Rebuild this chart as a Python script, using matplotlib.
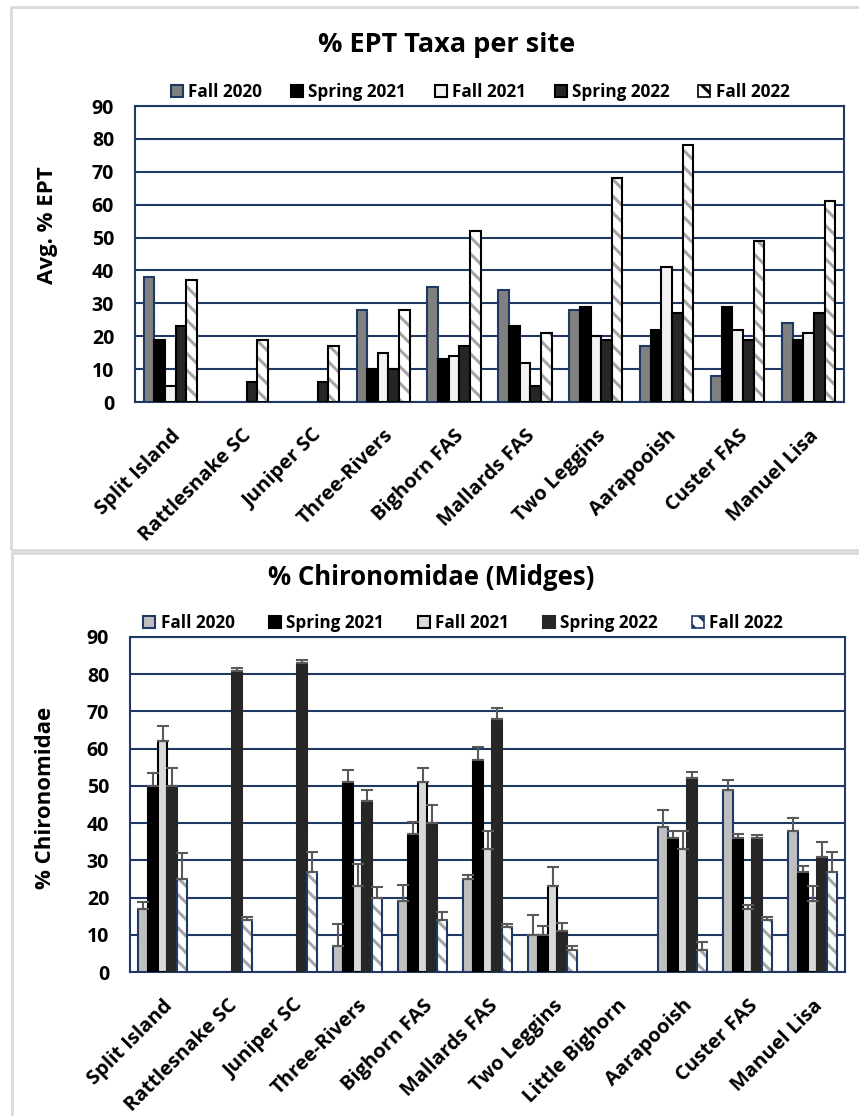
import numpy as np
import matplotlib
matplotlib.use("Agg")
import matplotlib.pyplot as plt
from matplotlib.patches import Rectangle

plt.rcParams['font.family'] = ['Open Sans', 'DejaVu Sans']
plt.rcParams['font.weight'] = 'bold'
plt.rcParams['hatch.linewidth'] = 2.2

# --- donnees ---
seasons = ["Fall 2020", "Spring 2021", "Fall 2021", "Spring 2022", "Fall 2022"]

ept_sites = ["Split Island", "Rattlesnake SC", "Juniper SC", "Three-Rivers", "Bighorn FAS",
             "Mallards FAS", "Two Leggins", "Aarapooish", "Custer FAS", "Manuel Lisa"]
ept_fall20 = [38, 0, 0, 28, 35, 34, 28, 17, 8, 24]
ept_spring21 = [19, 0, 0, 10, 13, 23, 29, 22, 29, 19]
ept_fall21 = [5, 0, 0, 15, 14, 12, 20, 41, 22, 21]
ept_spring22 = [23, 6, 6, 10, 17, 5, 19, 27, 19, 27]
ept_fall22 = [37, 19, 17, 28, 52, 21, 68, 78, 49, 61]

chi_sites = ["Split Island", "Rattlesnake SC", "Juniper SC", "Three-Rivers", "Bighorn FAS",
             "Mallards FAS", "Two Leggins", "Little Bighorn", "Aarapooish", "Custer FAS", "Manuel Lisa"]
chi_fall20 = [17, 0, 0, 7, 19, 25, 10, 0, 39, 49, 38]
chi_spring21 = [50, 0, 0, 51, 37, 57, 10, 0, 36, 36, 27]
chi_fall21 = [62, 0, 0, 23, 51, 33, 23, 0, 33, 17, 19]
chi_spring22 = [50, 81, 83, 46, 40, 68, 11, 0, 52, 36, 31]
chi_fall22 = [25, 14, 27, 20, 14, 12, 6, 0, 6, 14, 27]
# erreurs (vers le haut seulement)
chi_err_fall20 = [1.7, 0, 0, 6, 4.5, 1, 5.4, 0, 4.6, 2.7, 3.3]
chi_err_spring21 = [3.5, 0, 0, 3.2, 3.3, 3.4, 2.4, 0, 1.8, 1, 1.4]
chi_err_fall21 = [4, 0, 0, 6, 3.8, 5, 5.2, 0, 5, 0.9, 4.2]
chi_err_spring22 = [4.8, 0.7, 0.7, 3, 4.9, 3, 2.1, 0, 1.8, 0.7, 4]
chi_err_fall22 = [7, 0.9, 5.2, 2.9, 2, 1, 0.9, 0, 2, 0.9, 5.2]

navy = "#1F3864"
hatch_grey = "#A6A6A6"

fig = plt.figure(figsize=(8.59, 11.16), dpi=100)

# cadres gris des deux graphiques
fig.patches.append(Rectangle((11/859, 1-550/1116), 1.0, 543/1116, transform=fig.transFigure,
                             fill=False, edgecolor="#D9D9D9", linewidth=2))
fig.patches.append(Rectangle((12/859, -0.01), 1.0, 1-553/1116+0.01, transform=fig.transFigure,
                             fill=False, edgecolor="#D9D9D9", linewidth=2))


def draw_chart(ax, sites, series, styles, errs=None):
    x = np.arange(len(sites))
    w = 0.15
    handles = []
    for i, (vals, st) in enumerate(zip(series, styles)):
        pos = x + (i - 2) * w
        vals = np.array(vals, dtype=float)
        hide = vals == 0
        if st.get("hatch"):
            ax.bar(pos[~hide], vals[~hide], w, color="white", edgecolor=hatch_grey,
                   hatch=st["hatch"], linewidth=0, zorder=3)
            ax.bar(pos[~hide], vals[~hide], w, fill=False, edgecolor=st["edge"],
                   linewidth=1.5, zorder=4)
            h = ax.bar([np.nan], [np.nan], w, facecolor="white", edgecolor=st["edge"],
                       hatch=st["hatch"], linewidth=1.2, label=seasons[i])
        else:
            h = ax.bar(pos[~hide], vals[~hide], w, color=st["color"], edgecolor=st["edge"],
                       linewidth=1.5, zorder=3, label=seasons[i])
        handles.append(h)
        if errs is not None:
            e = np.array(errs[i], dtype=float)
            ax.errorbar(pos[~hide], vals[~hide], yerr=[np.zeros((~hide).sum()), e[~hide]],
                        fmt="none", ecolor="#595959", elinewidth=1.5, capsize=4,
                        capthick=1.5, zorder=5)
    ax.set_xlim(-0.5, len(sites) - 0.5)
    ax.set_ylim(0, 90)
    ax.set_yticks(range(0, 91, 10))
    ax.yaxis.grid(True, color=navy, linewidth=1.5, zorder=0)
    ax.set_axisbelow(True)
    for s in ax.spines.values():
        s.set_color(navy)
        s.set_linewidth(1.5)
    ax.tick_params(axis="y", length=0, labelsize=14, pad=15)
    ax.tick_params(axis="x", length=0, pad=17)
    ax.set_xticks(x)
    ax.set_xticklabels(sites, rotation=45, ha="right", rotation_mode="anchor",
                       fontsize=14.5, fontweight="bold")
    for t in ax.get_yticklabels():
        t.set_fontweight("bold")
    return handles


# --- graphe 1 : % EPT ---
ax1 = fig.add_axes([135/859, 1-402/1116, (844-135)/859, (402-106)/1116])
styles1 = [dict(color="#808080", edge=navy),
           dict(color="black", edge="black"),
           dict(color="#F2F2F2", edge="black"),
           dict(color="#262626", edge="black"),
           dict(hatch="\\\\", edge="black")]
h1 = draw_chart(ax1, ept_sites,
                [ept_fall20, ept_spring21, ept_fall21, ept_spring22, ept_fall22], styles1)
fig.text(47/859, 1-225/1116, "Avg. % EPT", rotation=90, ha="center", va="center",
         fontsize=16, fontweight="bold")
fig.text(447/859, 1-45/1116, "% EPT Taxa per site", ha="center", va="center",
         fontsize=19.5, fontweight="bold")
fig.legend(handles=h1, labels=seasons, loc="center", bbox_to_anchor=(480/859, 1-92/1116),
           ncol=5, frameon=False, handlelength=0.7, handleheight=0.7,
           handletextpad=0.3, columnspacing=1.7, prop=dict(weight="bold", size=12.3))

# --- graphe 2 : % Chironomidae ---
ax2 = fig.add_axes([130/859, 1-972/1116, (845-130)/859, (972-637)/1116])
styles2 = [dict(color="#BFBFBF", edge=navy),
           dict(color="black", edge="black"),
           dict(color="#D9D9D9", edge="black"),
           dict(color="#262626", edge="#262626"),
           dict(hatch="\\\\", edge=navy)]
h2 = draw_chart(ax2, chi_sites,
                [chi_fall20, chi_spring21, chi_fall21, chi_spring22, chi_fall22], styles2,
                errs=[chi_err_fall20, chi_err_spring21, chi_err_fall21, chi_err_spring22, chi_err_fall22])
fig.text(46/859, 1-798/1116, "% Chironomidae", rotation=90, ha="center", va="center",
         fontsize=16, fontweight="bold")
fig.text(431/859, 1-578/1116, "% Chironomidae (Midges)", ha="center", va="center",
         fontsize=18.5, fontweight="bold")
fig.legend(handles=h2, labels=seasons, loc="center", bbox_to_anchor=(463/859, 1-623/1116),
           ncol=5, frameon=False, handlelength=0.7, handleheight=0.7,
           handletextpad=0.3, columnspacing=2.0, prop=dict(weight="bold", size=12.3))

fig.savefig("out.png", dpi=100)
